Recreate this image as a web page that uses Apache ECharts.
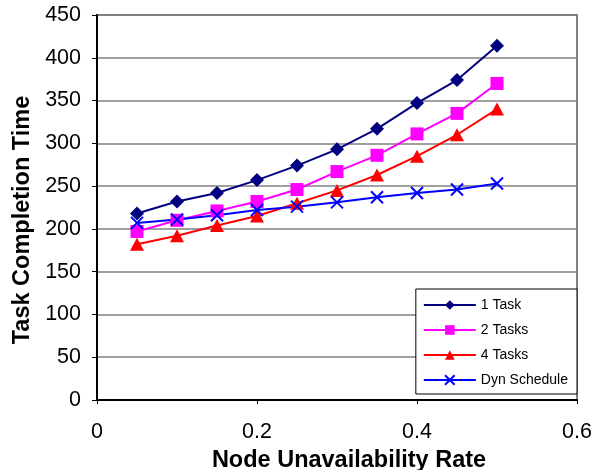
<!DOCTYPE html>
<html><head><meta charset="utf-8">
<script src="https://cdn.jsdelivr.net/npm/echarts@6/dist/echarts.min.js"></script>
<style>html,body{margin:0;padding:0;background:#fff}#c{width:595px;height:470px}</style>
</head><body><div id="c"></div>
<script>
var rates = [0.05,0.1,0.15,0.2,0.25,0.3,0.35,0.4,0.45,0.5];
var oneTask = [218,232,242,257,274,293,317,347,374,414];
var twoTasks = [197,210,221,232,246,267,286,311,335,370];
var fourTasks = [182,192,204,215,230,245,263,285,310,340];
var dynSchedule = [207,211,216,222,226,231,237,242,246,253];
var seriesNames = ['1 Task','2 Tasks','4 Tasks','Dyn Schedule'];
var FONT = 'Arial, "Liberation Sans", sans-serif';
function pairs(v){return rates.map(function(r,i){return [r,v[i]];});}
var xPath = 'path://M0,0L10,10M10,0L0,10';
var chart = echarts.init(document.getElementById('c'), null, {renderer:'canvas'});
chart.setOption({
  animation:false,
  backgroundColor:'#fff',
  grid:{left:97,right:18,top:15,bottom:70,containLabel:false,outerBoundsMode:'none',show:true,borderColor:'#808080',borderWidth:2,backgroundColor:'transparent'},
  legend:{
    orient:'vertical',right:18,bottom:76,
    backgroundColor:'#fff',borderColor:'#000',borderWidth:1,borderRadius:0,
    padding:[9,9,7,7],itemGap:11,itemWidth:52,itemHeight:12,
    textStyle:{fontFamily:FONT,fontSize:14,color:'#000',lineHeight:14},
    data:seriesNames
  },
  xAxis:{type:'value',min:0,max:0.6,interval:0.2,
    name:'Node Unavailability Rate',nameLocation:'middle',nameGap:49,
    nameTextStyle:{fontFamily:FONT,fontSize:23.5,fontWeight:'bold',color:'#000',padding:[0,0,0,24]},
    axisLine:{show:true,lineStyle:{color:'#000',width:2}},
    axisTick:{show:true,inside:false,length:4,lineStyle:{color:'#000',width:1}},
    axisLabel:{fontFamily:FONT,fontSize:21.5,color:'#000',margin:21},
    splitLine:{show:false}
  },
  yAxis:{type:'value',min:0,max:450,interval:50,
    name:'Task Completion Time',nameLocation:'middle',nameGap:60,nameRotate:90,
    nameTextStyle:{fontFamily:FONT,fontSize:23.5,fontWeight:'bold',color:'#000',padding:[0,25,0,0]},
    axisLine:{show:true,lineStyle:{color:'#000',width:2}},
    axisTick:{show:true,inside:false,length:5,lineStyle:{color:'#000',width:1}},
    axisLabel:{fontFamily:FONT,fontSize:21.5,color:'#000',margin:16},
    splitLine:{show:true,lineStyle:{color:'#808080',width:1.5}}
  },
  series:[
    {name:seriesNames[0],type:'line',data:pairs(oneTask),symbol:'diamond',symbolSize:14,
     lineStyle:{color:'#000080',width:2},itemStyle:{color:'#000080'}},
    {name:seriesNames[1],type:'line',data:pairs(twoTasks),symbol:'rect',symbolSize:13,
     lineStyle:{color:'#FF00FF',width:2},itemStyle:{color:'#FF00FF'}},
    {name:seriesNames[2],type:'line',data:pairs(fourTasks),symbol:'triangle',symbolSize:[14,13],
     lineStyle:{color:'#FF0000',width:2},itemStyle:{color:'#FF0000'}},
    {name:seriesNames[3],type:'line',data:pairs(dynSchedule),symbol:xPath,symbolSize:12,
     lineStyle:{color:'#0000FF',width:2},itemStyle:{color:'#0000FF',borderColor:'#0000FF',borderWidth:2}}
  ]
});
</script></body></html>
